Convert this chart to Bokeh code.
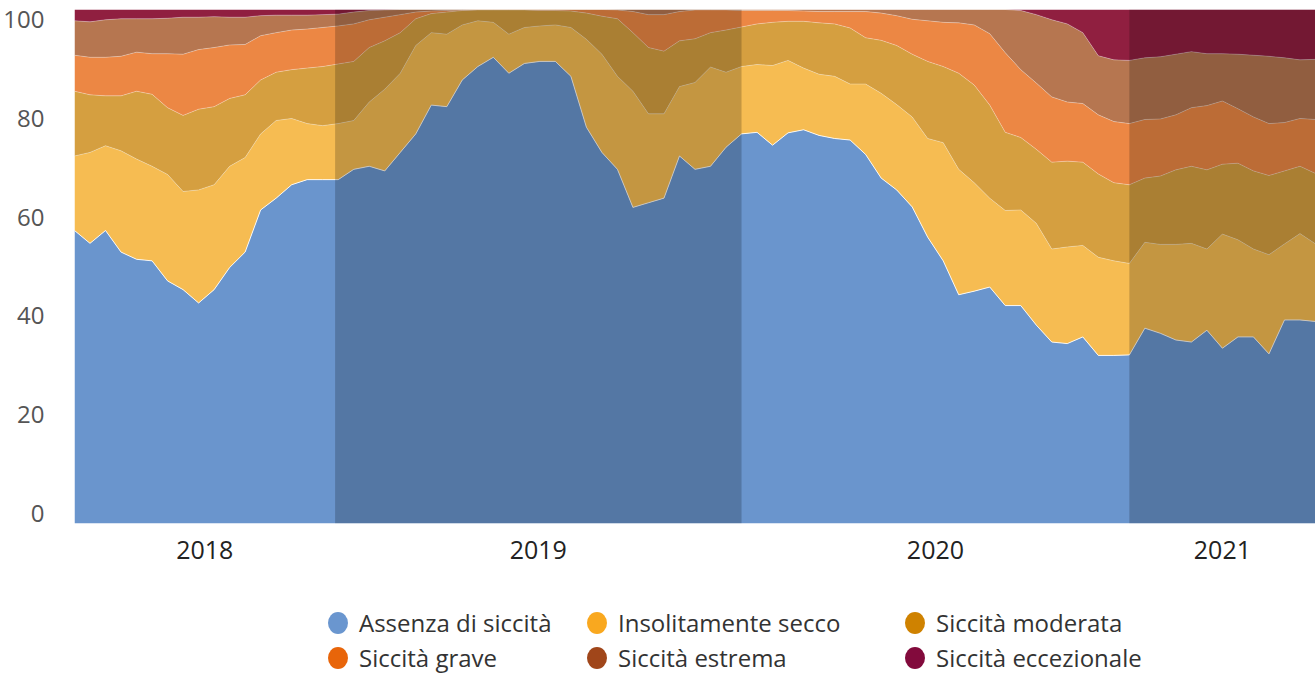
import numpy as np
from bokeh.plotting import figure
from bokeh.models import Range1d, FixedTicker, CustomJSTickFormatter, Div, LinearAxis
from bokeh.layouts import column
from bokeh.embed import file_html
from bokeh.resources import INLINE

# ---------------- data (percent of area) ----------------
weeks = list(range(0, 161, 2))  # week index since start of series (every 2 weeks)

# cumulative share from the bottom (top edge of each category, %)
cum_assenza = [57.0, 54.5, 57.0, 52.8, 51.4, 51.1, 47.2, 45.5, 42.9, 45.5, 49.8, 52.8, 61.0, 63.3,
               65.9, 66.9, 66.9, 66.9, 68.9, 69.5, 68.6, 72.2, 75.8, 81.4, 81.1, 86.3, 88.9,
               90.7, 87.6, 89.5, 89.9, 89.9, 87.0, 77.1, 72.2, 68.9, 61.5, 62.4, 63.3, 71.5,
               68.9, 69.5, 73.2, 75.8, 76.1, 73.6, 76.0, 76.6, 75.5, 74.9, 74.6, 71.8, 67.2, 64.9,
               61.6, 55.7, 51.1, 44.5, 45.2, 46.0, 42.4, 42.4, 38.6, 35.3, 35.0, 36.3, 32.7,
               32.7, 32.8, 38.0, 37.0, 35.7, 35.3, 37.6, 34.1, 36.3, 36.3, 33.0, 39.6, 39.6, 39.3]
cum_insolitamente = [71.5, 72.2, 73.5, 72.5, 70.9, 69.5, 67.9, 64.6, 64.9, 65.9, 69.5, 71.2, 75.8, 78.4,
                     78.8, 77.8, 77.4, 77.8, 78.4, 82.0, 84.5, 87.6, 93.0, 95.5, 95.2, 97.0, 97.8,
                     97.5, 95.2, 96.5, 96.8, 97.0, 96.5, 94.2, 91.3, 87.0, 84.1, 79.7, 79.7, 85.0,
                     85.8, 88.8, 87.8, 88.9, 89.3, 89.1, 90.1, 88.6, 87.4, 87.0, 85.5, 85.5, 83.7, 81.5,
                     79.1, 74.9, 74.1, 68.9, 66.3, 63.3, 60.9, 61.0, 58.4, 53.4, 53.8, 54.1, 51.8,
                     51.1, 50.6, 54.7, 54.3, 54.3, 54.5, 53.4, 56.3, 55.2, 53.4, 52.3, 54.4, 56.4, 54.4]
cum_moderata = [84.1, 83.4, 83.2, 83.2, 84.1, 83.5, 80.9, 79.4, 80.6, 81.1, 82.7, 83.4, 86.3, 87.8,
                88.3, 88.6, 88.9, 89.4, 89.9, 92.6, 93.9, 95.5, 98.2, 99.2, 99.5, 99.8, 99.9,
                99.9, 99.9, 99.9, 99.8, 99.8, 99.7, 99.3, 98.7, 98.2, 95.5, 92.6, 91.9, 93.9,
                94.3, 95.5, 96.0, 96.6, 97.2, 97.5, 97.7, 97.7, 97.4, 97.2, 96.4, 94.5, 94.0, 93.0,
                91.3, 89.9, 88.9, 87.6, 85.3, 81.4, 76.1, 75.1, 72.8, 70.3, 70.5, 70.3, 68.0,
                66.3, 65.9, 67.2, 67.6, 68.8, 69.5, 68.8, 69.9, 70.1, 68.6, 67.7, 68.6, 69.5, 68.1]
cum_grave = [91.1, 90.7, 90.7, 90.9, 91.7, 91.4, 91.4, 91.3, 92.2, 92.6, 93.1, 93.2, 94.9, 95.5,
             96.0, 96.2, 96.5, 96.8, 97.2, 98.0, 98.5, 99.0, 99.5, 99.7, 99.8, 99.9, 100.0,
             100.0, 100.0, 100.0, 100.0, 100.0, 100.0, 100.0, 100.0, 99.9, 99.6, 99.0, 99.0, 99.6,
             99.9, 99.9, 99.9, 99.8, 99.8, 99.8, 99.8, 99.7, 99.6, 99.6, 99.6, 99.6, 99.3, 98.8,
             98.1, 97.8, 97.5, 97.4, 97.0, 95.3, 91.6, 88.3, 85.7, 83.0, 82.0, 81.7, 79.5,
             78.2, 77.8, 78.6, 78.7, 79.5, 80.9, 81.3, 82.2, 80.7, 79.1, 77.8, 78.0, 78.8, 78.6]
cum_estrema = [97.8, 97.6, 98.0, 98.2, 98.2, 98.2, 98.3, 98.5, 98.5, 98.6, 98.5, 98.5, 98.8, 98.9,
               98.9, 98.9, 99.0, 99.1, 99.5, 99.8, 99.9, 100.0, 100.0, 100.0, 100.0, 100.0, 100.0,
               100.0, 100.0, 100.0, 100.0, 100.0, 100.0, 100.0, 100.0, 100.0, 100.0, 100.0, 100.0, 100.0,
               100.0, 100.0, 100.0, 100.0, 100.0, 100.0, 100.0, 100.0, 100.0, 100.0, 100.0, 100.0, 100.0, 100.0,
               100.0, 100.0, 100.0, 100.0, 100.0, 100.0, 100.0, 99.8, 99.0, 98.0, 97.2, 95.5, 91.0,
               90.2, 90.1, 90.6, 90.8, 91.3, 91.8, 91.4, 91.4, 91.3, 91.1, 90.9, 90.6, 90.2, 90.3]
total = 100.0

categories = ["Assenza di siccità", "Insolitamente secco", "Siccità moderata",
              "Siccità grave", "Siccità estrema", "Siccità eccezionale"]
area_colors = ["#6A95CD", "#F6BC52", "#D59F40", "#EC8744", "#B67650", "#901F40"]
legend_colors = ["#6A96CF", "#F9A81F", "#CF8200", "#E8650A", "#A0461A", "#820A3C"]

years = ["2018", "2019", "2020", "2021"]
year_start_week = [0.0, 33.6, 86.0, 136.0]
last_week = 160.0
shaded_years = ["2019", "2021"]
y_ticks = [0, 20, 40, 60, 80, 100]

# ---------------- figure ----------------
FONT = "Open Sans"
p = figure(width=1315, height=583, output_backend="svg", toolbar_location=None,
           x_range=Range1d(weeks[0], last_week), y_range=Range1d(0, 100),
           y_axis_location=None,
           min_border_left=73, min_border_right=0, min_border_top=9, min_border_bottom=60)
p.outline_line_color = None
p.grid.visible = False
p.background_fill_color = "white"

bounds = [np.zeros(len(weeks))] + [np.array(c, dtype=float) for c in
          (cum_assenza, cum_insolitamente, cum_moderata, cum_grave, cum_estrema)] + \
         [np.full(len(weeks), total)]

x = np.array(weeks, dtype=float)
for i, col in enumerate(area_colors):
    p.varea(x=x, y1=bounds[i], y2=bounds[i + 1], fill_color=col, fill_alpha=1.0)

# thin light edges between bands
for i in range(1, 6):
    p.line(x=x, y=bounds[i], line_color="white", line_width=1.0,
           line_alpha=0.85 if i == 1 else 0.3)

# darker overlay on alternating years
edges = year_start_week + [last_week]
for k, yr in enumerate(years):
    if yr in shaded_years:
        p.quad(left=edges[k], right=edges[k + 1], bottom=0, top=100,
               fill_color="black", fill_alpha=0.2, line_color=None)

# x axis: year labels centred in each year band
centers = [(edges[k] + edges[k + 1]) / 2 for k in range(len(years))]
p.xaxis.ticker = FixedTicker(ticks=centers)
p.xaxis.formatter = CustomJSTickFormatter(args=dict(yticks=centers, ylabels=years), code="""
    let best = 0;
    for (let i = 0; i < yticks.length; i++) {
        if (Math.abs(yticks[i] - tick) < Math.abs(yticks[best] - tick)) best = i;
    }
    return ylabels[best];
""")
p.xaxis.axis_line_color = None
p.xaxis.major_tick_line_color = None
p.xaxis.minor_tick_line_color = None
p.xaxis.major_label_text_font = FONT
p.xaxis.major_label_text_font_size = "25px"
p.xaxis.major_label_text_color = "#222222"
p.xaxis.major_label_standoff = 11

# y axis: labels laid out slightly inside the plot height, as in the original
p.extra_y_ranges = {"labels": Range1d(-2.03, 102.03)}
yax = LinearAxis(y_range_name="labels", ticker=FixedTicker(ticks=y_ticks))
yax.axis_line_color = None
yax.major_tick_line_color = None
yax.minor_tick_line_color = None
yax.major_label_text_font = FONT
yax.major_label_text_font_size = "24px"
yax.major_label_text_color = "#555555"
yax.major_label_standoff = 24
p.add_layout(yax, "left")

# ---------------- legend (HTML) ----------------
col_x = [338, 597, 915]
row_y = [40, 75]
items = []
for i, (name, c) in enumerate(zip(categories, legend_colors)):
    cx = col_x[i % 3]
    cy = row_y[i // 3]
    items.append(
        f'<span style="position:absolute;left:{cx - 10}px;top:{cy - 11}px;width:20px;height:22px;'
        f'border-radius:50%;background:{c};"></span>'
        f'<span style="position:absolute;left:{cx + 21}px;top:{cy - 12}px;height:24px;'
        f'line-height:24px;white-space:nowrap;">{name}</span>')
legend_html = (f'<div style="position:relative;width:1315px;height:88px;font-family:\'{FONT}\';'
               f'font-size:24px;color:#333333;">' + "".join(items) + '</div>')
legend = Div(text=legend_html, width=1315, height=88, margin=(0, 0, 0, 0))

layout = column(p, legend, spacing=0)
open("out.html", "w").write(file_html(layout, INLINE))
